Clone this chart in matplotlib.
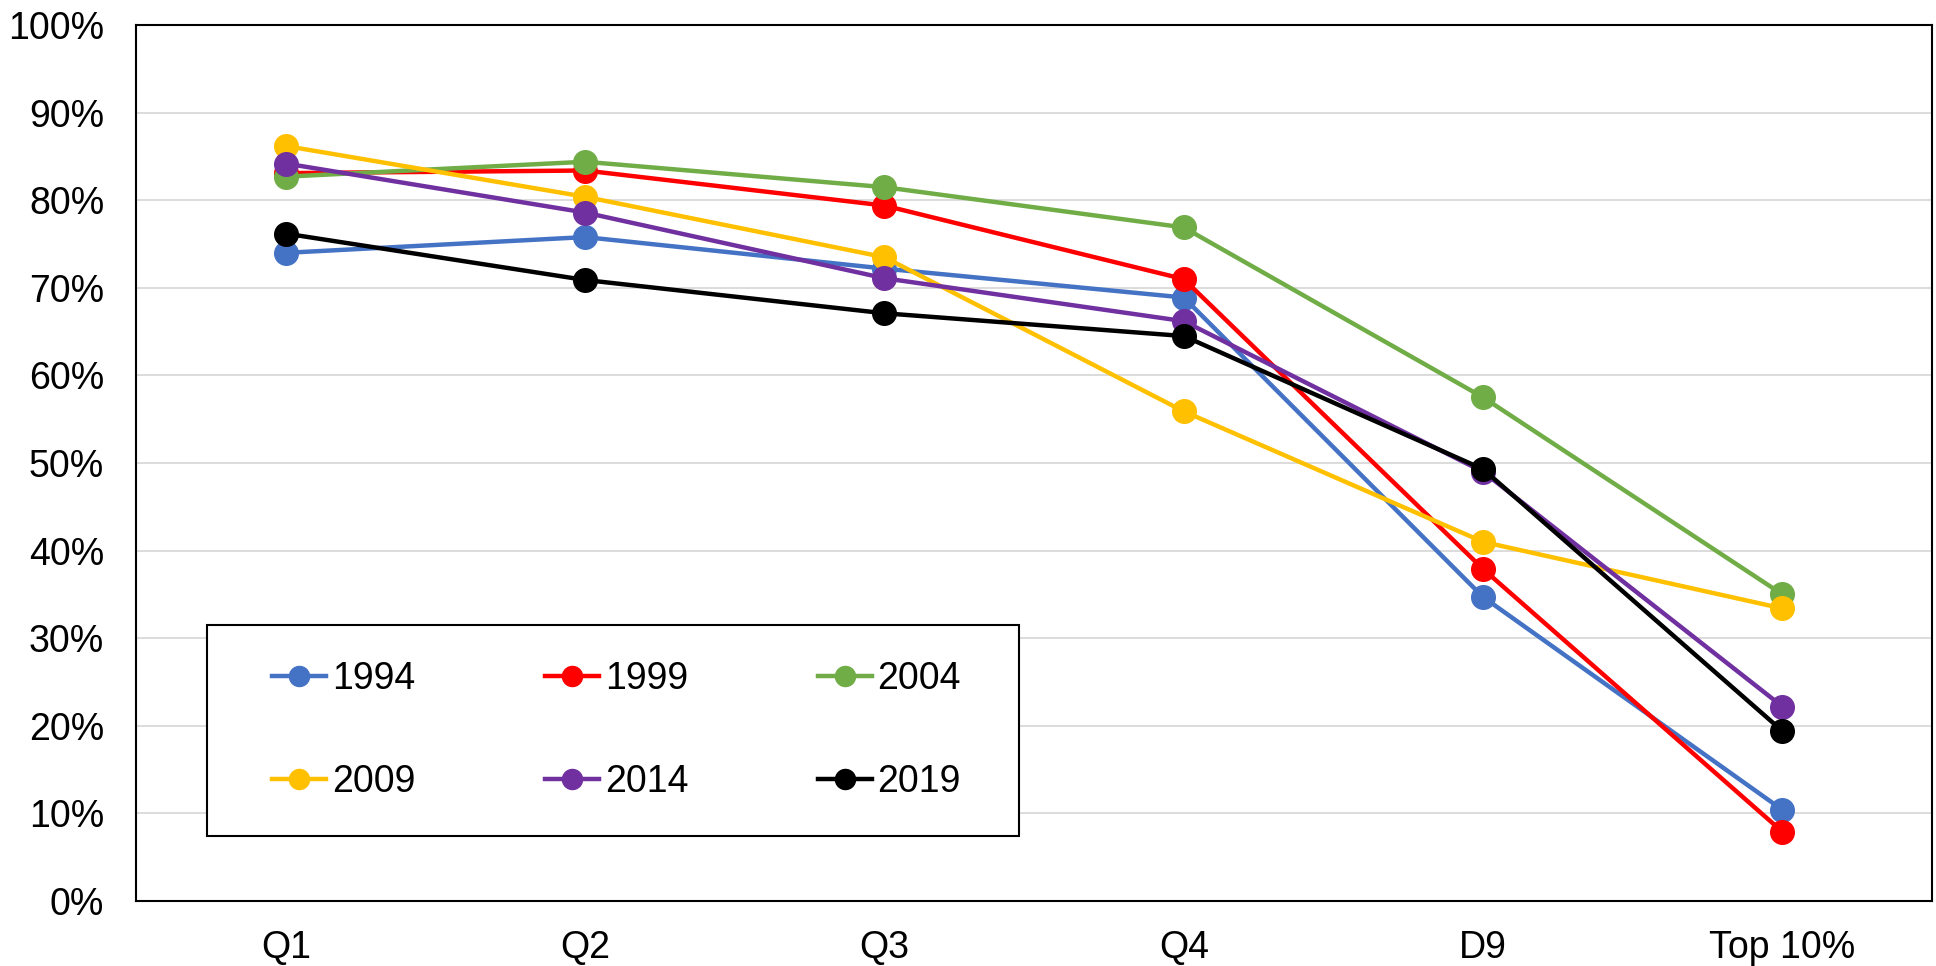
import numpy as np
import matplotlib
matplotlib.use('Agg')
import matplotlib.pyplot as plt
from matplotlib.patches import Rectangle
from matplotlib.ticker import PercentFormatter

# Daten
groups = ['Q1', 'Q2', 'Q3', 'Q4', 'D9', 'Top 10%']
years = ['1994', '1999', '2004', '2009', '2014', '2019']

v1994 = [74.0, 75.8, 72.2, 68.9, 34.7, 10.4]
v1999 = [83.1, 83.4, 79.4, 71.0, 37.9, 7.9]
v2004 = [82.7, 84.4, 81.5, 76.9, 57.5, 35.0]
v2009 = [86.2, 80.4, 73.5, 55.9, 41.0, 33.4]
v2014 = [84.2, 78.6, 71.1, 66.2, 49.0, 22.2]
v2019 = [76.2, 70.9, 67.1, 64.5, 49.3, 19.4]

colors = ['#4472C4', '#FF0000', '#70AD47', '#FFC000', '#7030A0', '#000000']

plt.rcParams['font.family'] = ['Liberation Sans', 'DejaVu Sans']

fig = plt.figure(figsize=(19.36, 9.66), dpi=100)
ax = fig.add_axes([0.0703, 0.0673, 0.9277, 0.9067])

x = np.arange(len(groups))
series = [v1994, v1999, v2004, v2009, v2014, v2019]
lines = []
for i, (yr, vals) in enumerate(zip(years, series)):
    l, = ax.plot(x, vals, '-o', color=colors[i], lw=3.2, ms=17, label=yr, zorder=3 + i)
    lines.append(l)

ax.set_xlim(-0.5, len(groups) - 0.5)
ax.set_ylim(0, 100)
ax.set_yticks(np.arange(0, 101, 10))
ax.yaxis.set_major_formatter(PercentFormatter(decimals=0))
ax.set_xticks(x)
ax.set_xticklabels(groups)
ax.tick_params(axis='both', length=0, labelsize=27)
ax.tick_params(axis='y', pad=23)
ax.tick_params(axis='x', pad=21)
ax.grid(axis='y', color='#D9D9D9', lw=1.3, zorder=0)
for s in ax.spines.values():
    s.set_color('black')
    s.set_linewidth(1.5)

# Legendenrahmen separat
box = Rectangle((0.0395, 0.0742), 0.452, 0.241, transform=ax.transAxes,
                facecolor='white', edgecolor='black', lw=1.5, zorder=20)
ax.add_patch(box)

# zeilenweise Reihenfolge (matplotlib fuellt spaltenweise)
order = [0, 3, 1, 4, 2, 5]
leg = ax.legend([lines[k] for k in order], [years[k] for k in order], ncol=3,
                loc='center', bbox_to_anchor=(0.0395 + 0.452 / 2 + 0.002, 0.0742 + 0.241 / 2),
                frameon=False, fontsize=27, handlelength=1.45, handletextpad=0.15,
                markerscale=0.85, columnspacing=3.45, labelspacing=1.8, borderaxespad=0)
leg.set_zorder(21)

fig.savefig('out.png', dpi=100)
